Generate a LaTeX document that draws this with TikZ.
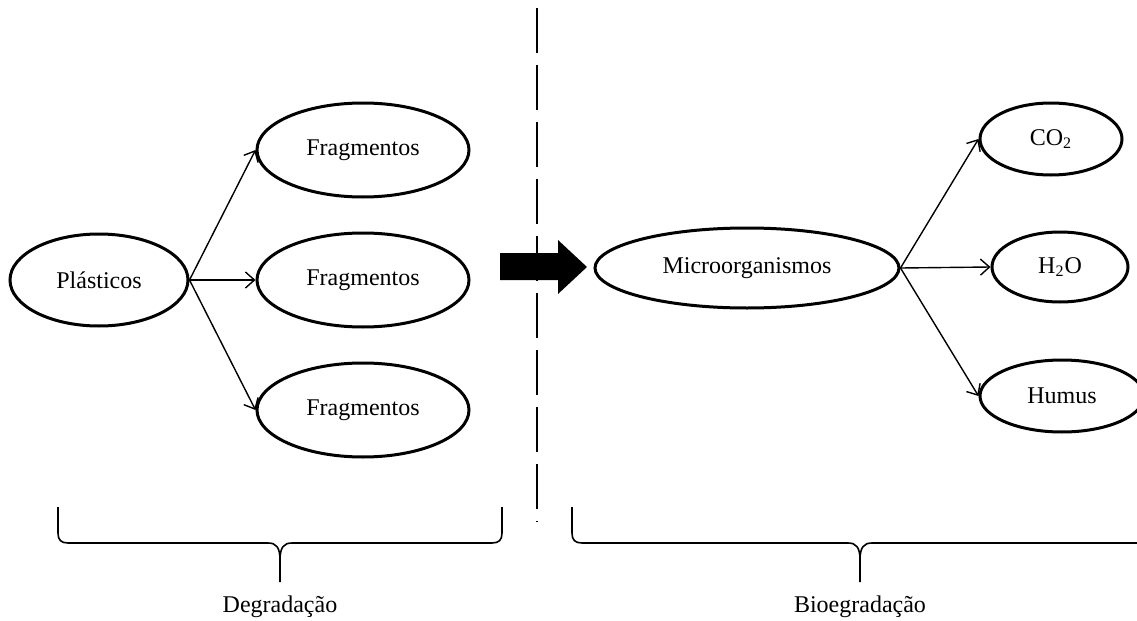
\documentclass[tikz,border=0pt]{standalone}
\usepackage{fontspec}
\setmainfont{Liberation Serif}
\usetikzlibrary{shapes.geometric,arrows.meta}
\tikzset{
  oval/.style={ellipse,draw,line width=1.5pt,inner sep=0pt,font=\fontsize{12}{14}\selectfont},
  conn/.style={line width=0.7pt,-{Straight Barb[length=4.5pt,width=8pt,line width=0.7pt]}},
  bracepath/.style={line width=0.8pt,line join=round},
  lbl/.style={font=\fontsize{12}{14}\selectfont},
}
\begin{document}
\begin{tikzpicture}[x=0.5pt,y=-0.5pt]
\useasboundingbox (0,0) rectangle (1137,621);
\clip (0,0) rectangle (1137,621);
% nodes
\node[oval,minimum width=89pt,minimum height=46pt] (p) at (99,280) {Plásticos};
\node[oval,minimum width=106pt,minimum height=47pt] (f1) at (363,150) {Fragmentos};
\node[oval,minimum width=106pt,minimum height=47pt] (f2) at (363,280) {Fragmentos};
\node[oval,minimum width=106pt,minimum height=47pt] (f3) at (363,410) {Fragmentos};
\node[oval,minimum width=152pt,minimum height=40pt] (m) at (747,268) {Microorganismos};
\node[oval,minimum width=71pt,minimum height=36pt] (co) at (1051,139) {CO\textsubscript{2}};
\node[oval,minimum width=68pt,minimum height=35pt] (h) at (1060,267) {H\textsubscript{2}O};
\node[oval,minimum width=82pt,minimum height=36pt] (hu) at (1062,396) {Humus};
% connectors
\draw[conn] (p.east) -- (f1.west);
\draw[conn] (p.east) -- (f2.west);
\draw[conn] (p.east) -- (f3.west);
\draw[conn] (m.east) -- (co.west);
\draw[conn] (m.east) -- (h.west);
\draw[conn] (m.east) -- (hu.west);
% dashed divider
\coordinate (dtop) at (537,8);
\coordinate (dbot) at (537,522);
\draw[line width=1pt,dash pattern=on 22.5pt off 6pt] (dtop) -- (dbot);
% big arrow
\fill (500,253) -- (558,253) -- (558,240) -- (587,267) -- (558,294) -- (558,280) -- (500,280) -- cycle;
% left brace
\draw[bracepath] (58,507) -- (58,533) .. controls (58,540) and (61,543) .. (68,543)
  -- (268,543) .. controls (276,543) and (280,547) .. (280,560) -- (280,582);
\draw[bracepath] (502,507) -- (502,533) .. controls (502,540) and (499,543) .. (492,543)
  -- (292,543) .. controls (284,543) and (280,547) .. (280,560);
% right brace
\draw[bracepath] (572,507) -- (572,533) .. controls (572,540) and (575,543) .. (582,543)
  -- (848,543) .. controls (856,543) and (860,547) .. (860,560) -- (860,582);
\draw[bracepath] (1160,543) -- (872,543) .. controls (864,543) and (860,547) .. (860,560);
% labels
\node[lbl] (dl) at (280,607) {Degradação};
\node[lbl] (bl) at (860,607) {Bioegradação};
\end{tikzpicture}
\end{document}
